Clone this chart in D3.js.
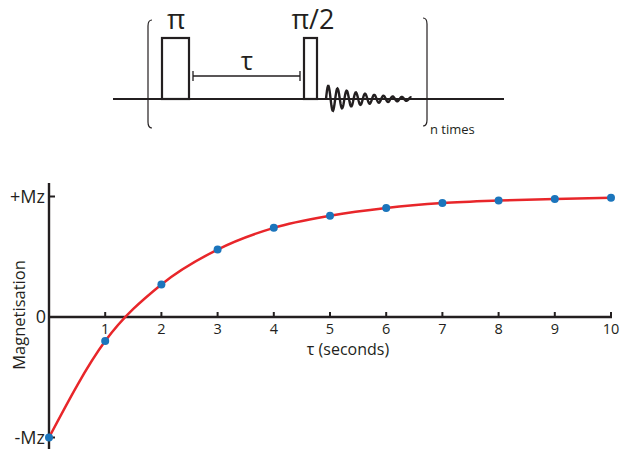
<!DOCTYPE html>
<meta charset="utf-8">
<script src="https://cdn.jsdelivr.net/npm/d3@7"></script>
<style>
	body{margin:0;background:#fff;font-family:"Open Sans",sans-serif;}
	text{fill:#231f20;}
</style>
<div id="chart"></div>
<script>
// recovery data
var tau = [0,1,2,3,4,5,6,7,8,9,10]
var mag = [-1,-0.2,0.27,0.56,0.74,0.84,0.905,0.946,0.967,0.98,0.99]
var xTicks = [1,2,3,4,5,6,7,8,9,10]
var yTicks = [-1,0,1]
var yTickLabels = ["-Mz","0","+Mz"]

var width = 623
var height = 449
var ink = "#231f20"

var svg = d3.select("#chart").append("svg")
	.attr("width",width)
	.attr("height",height)

// ---- pulse sequence sketch ----
var seq = svg.append("g")
var baseY = 99
seq.append("line").attr("x1",113).attr("x2",504).attr("y1",baseY).attr("y2",baseY)
	.attr("stroke",ink).attr("stroke-width",2.2)
// pulses
seq.append("rect").attr("x",162).attr("y",38).attr("width",27).attr("height",baseY-38)
	.attr("fill","none").attr("stroke",ink).attr("stroke-width",2.2)
seq.append("rect").attr("x",304).attr("y",38).attr("width",13).attr("height",baseY-38)
	.attr("fill","none").attr("stroke",ink).attr("stroke-width",2.2)
seq.append("text").attr("x",176).attr("y",29).attr("text-anchor","middle")
	.style("font-size","28px").text("π")
seq.append("text").attr("x",313).attr("y",29).attr("text-anchor","middle")
	.style("font-size","27px").text("π/2")
// tau bar
seq.append("path").attr("d","M193,71V81M193,76H300M300,71V81")
	.attr("fill","none").attr("stroke",ink).attr("stroke-width",1.3)
seq.append("text").attr("x",247).attr("y",70).attr("text-anchor","middle")
	.style("font-size","26px").text("τ")
// FID squiggle
var fid = d3.range(0,86,0.5).map(function(t){
	return [326+t, baseY - 14*Math.exp(-t/40)*Math.sin(t*2*Math.PI/9.2)]
})
seq.append("path").attr("d",d3.line()(fid))
	.attr("fill","none").attr("stroke",ink).attr("stroke-width",2.4)
// brackets
seq.append("path").attr("d","M152,20 Q148,20 148,26 V122 Q148,128 152,128")
	.attr("fill","none").attr("stroke",ink).attr("stroke-width",1.2)
seq.append("path").attr("d","M423,18 Q427,18 427,24 V120 Q427,126 423,126")
	.attr("fill","none").attr("stroke",ink).attr("stroke-width",1.2)
seq.append("text").attr("x",430).attr("y",134)
	.style("font-size","13px").text("n times")

// ---- recovery plot ----
var x = d3.scaleLinear().domain([0,10]).range([49,611])
var y = d3.scaleLinear().domain([-1,1]).range([437.5,196.5])

var plot = svg.append("g")
// axes lines
plot.append("line").attr("x1",x(0)).attr("x2",x(0)).attr("y1",183).attr("y2",449)
	.attr("stroke",ink).attr("stroke-width",2.4)
plot.append("line").attr("x1",x(0)).attr("x2",x(10)+1).attr("y1",y(0)).attr("y2",y(0))
	.attr("stroke",ink).attr("stroke-width",2.4)

plot.selectAll(".xt").data(xTicks).enter().append("line")
	.attr("x1",function(d){return x(d)}).attr("x2",function(d){return x(d)})
	.attr("y1",y(0)-5).attr("y2",y(0))
	.attr("stroke",ink).attr("stroke-width",2)
plot.selectAll(".xl").data(xTicks).enter().append("text")
	.attr("x",function(d){return x(d)}).attr("y",y(0)+17)
	.attr("text-anchor","middle").style("font-size","14.5px")
	.text(function(d){return d})

plot.selectAll(".yt").data([-1,1]).enter().append("line")
	.attr("x1",x(0)).attr("x2",x(0)+6)
	.attr("y1",function(d){return y(d)}).attr("y2",function(d){return y(d)})
	.attr("stroke",ink).attr("stroke-width",2)
plot.selectAll(".yl").data(yTicks).enter().append("text")
	.attr("x",function(d){return d==0?46:45}).attr("y",function(d){return y(d)+6})
	.attr("text-anchor","end").style("font-size","18px")
	.text(function(d,i){return yTickLabels[i]})

plot.append("text").attr("x",348).attr("y",355).attr("text-anchor","middle")
	.style("font-size","16px").text("τ (seconds)")
plot.append("text").attr("transform","translate(25,315) rotate(-90)")
	.attr("text-anchor","middle").style("font-size","16.5px").text("Magnetisation")

// fitted curve and points
var pts = tau.map(function(t,i){return [t,mag[i]]})
plot.append("path").datum(pts)
	.attr("d",d3.line().x(function(d){return x(d[0])}).y(function(d){return y(d[1])}).curve(d3.curveMonotoneX))
	.attr("fill","none").attr("stroke","#e8262a").attr("stroke-width",2.5)
plot.selectAll("circle").data(pts).enter().append("circle")
	.attr("cx",function(d){return x(d[0])}).attr("cy",function(d){return y(d[1])})
	.attr("r",4).attr("fill","#1b75bc")
</script>
